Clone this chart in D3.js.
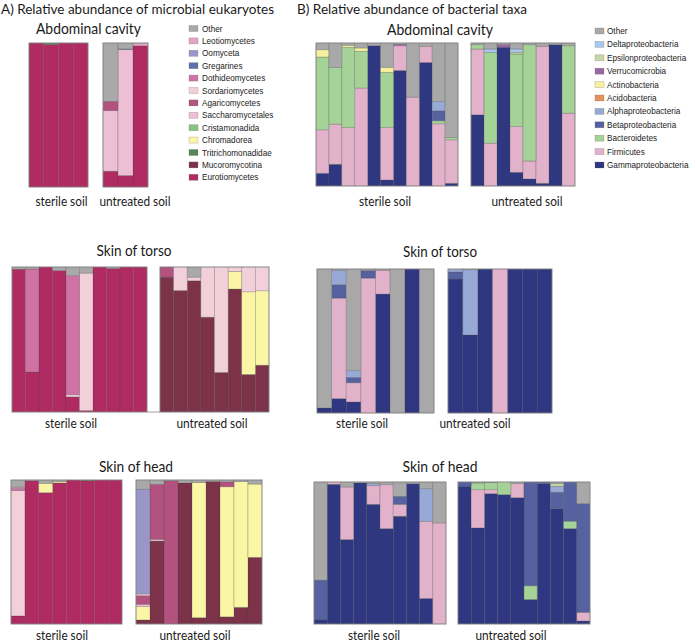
<!DOCTYPE html>
<html><head><meta charset="utf-8">
<script src="https://cdn.jsdelivr.net/npm/d3@7"></script>
<style>body{margin:0;background:#fff}svg{display:block}</style>
</head><body>
<script>
// ---------- taxa (legend order, top to bottom) ----------
const eukTaxa = ["Other","Leotiomycetes","Oomyceta","Gregarines","Dothideomycetes","Sordariomycetes","Agaricomycetes","Saccharomycetales","Cristamonadida","Chromadorea","Tritrichomonadidae","Mucoromycotina","Eurotiomycetes"];
const eukColors = ["#a9a9a9","#e3a2c7","#9a97c8","#5b72ad","#cf73a6","#f1d0da","#b3517f","#ecbfd5","#88c47e","#fbf6a6","#55875a","#7c3349","#b02b62"];
const bacTaxa = ["Other","Deltaproteobacteria","Epsilonproteobacteria","Verrucomicrobia","Actinobacteria","Acidobacteria","Alphaproteobacteria","Betaproteobacteria","Bacteroidetes","Firmicutes","Gammaproteobacteria"];
const bacColors = ["#a8a8a8","#aac8ee","#c5d8a5","#9a66a6","#f7f09e","#e4935a","#97a9d5","#56619f","#a4d297","#e2b2cb","#2f3780"];

// ---------- A) eukaryotes ----------
const eukAbdSterile = [
  {Eurotiomycetes:1},
  {Eurotiomycetes:0.99, Tritrichomonadidae:0.01},
  {Eurotiomycetes:1},
  {Eurotiomycetes:1}];
const eukAbdUntreated = [
  {Eurotiomycetes:0.11, Saccharomycetales:0.42, Agaricomycetes:0.065, Other:0.405},
  {Eurotiomycetes:0.08, Saccharomycetales:0.875, Gregarines:0.005, Other:0.04},
  {Eurotiomycetes:0.98, Leotiomycetes:0.02}];
const eukTorsoSterile = [
  {Eurotiomycetes:0.985, Other:0.015},
  {Eurotiomycetes:0.277, Dothideomycetes:0.709, Other:0.014},
  {Eurotiomycetes:1},
  {Eurotiomycetes:0.975, Other:0.025},
  {Eurotiomycetes:0.104, Sordariomycetes:0.015, Dothideomycetes:0.82, Other:0.06},
  {Eurotiomycetes:0.01, Sordariomycetes:0.948, Other:0.042},
  {Eurotiomycetes:1},
  {Eurotiomycetes:0.99, Other:0.01},
  {Eurotiomycetes:1},
  {Eurotiomycetes:1}];
const eukTorsoUntreated = [
  {Mucoromycotina:0.93, Agaricomycetes:0.07},
  {Mucoromycotina:0.838, Sordariomycetes:0.162},
  {Mucoromycotina:0.905, Sordariomycetes:0.025, Other:0.07},
  {Mucoromycotina:0.654, Sordariomycetes:0.346},
  {Mucoromycotina:0.273, Sordariomycetes:0.727},
  {Mucoromycotina:0.848, Chromadorea:0.122, Sordariomycetes:0.03},
  {Mucoromycotina:0.259, Chromadorea:0.57, Sordariomycetes:0.171},
  {Mucoromycotina:0.323, Chromadorea:0.513, Sordariomycetes:0.164}];
const eukHeadSterile = [
  {Eurotiomycetes:0.056, Sordariomycetes:0.87, Dothideomycetes:0.015, Leotiomycetes:0.01, Other:0.049},
  {Eurotiomycetes:0.995, Other:0.005},
  {Eurotiomycetes:0.912, Chromadorea:0.065, Other:0.023},
  {Eurotiomycetes:0.98, Chromadorea:0.01, Other:0.01},
  {Eurotiomycetes:1},
  {Eurotiomycetes:0.995, Tritrichomonadidae:0.005},
  {Eurotiomycetes:1},
  {Eurotiomycetes:1}];
const eukHeadUntreated = [
  {Mucoromycotina:0.028, Chromadorea:0.093, Saccharomycetales:0.016, Agaricomycetes:0.06, Sordariomycetes:0.012, Oomyceta:0.727, Other:0.064},
  {Mucoromycotina:0.576, Saccharomycetales:0.012, Agaricomycetes:0.382, Other:0.03},
  {Agaricomycetes:0.995, Other:0.005},
  {Mucoromycotina:0.98, Other:0.02},
  {Mucoromycotina:0.044, Chromadorea:0.938, Other:0.018},
  {Mucoromycotina:0.99, Other:0.01},
  {Mucoromycotina:0.05, Chromadorea:0.903, Agaricomycetes:0.035, Other:0.012},
  {Mucoromycotina:0.116, Chromadorea:0.873, Other:0.011},
  {Mucoromycotina:0.463, Chromadorea:0.509, Other:0.028}];

// ---------- B) bacteria ----------
const bacAbdSterile = [
  {Gammaproteobacteria:0.089, Firmicutes:0.304, Bacteroidetes:0.509, Actinobacteria:0.051, Other:0.047},
  {Gammaproteobacteria:0.152, Firmicutes:0.28, Bacteroidetes:0.397, Other:0.171},
  {Firmicutes:0.409, Bacteroidetes:0.561, Actinobacteria:0.014, Other:0.016},
  {Firmicutes:0.685, Bacteroidetes:0.257, Actinobacteria:0.023, Other:0.035},
  {Gammaproteobacteria:0.981, Other:0.019},
  {Gammaproteobacteria:0.042, Firmicutes:0.367, Bacteroidetes:0.386, Actinobacteria:0.035, Other:0.17},
  {Gammaproteobacteria:0.808, Firmicutes:0.173, Verrucomicrobia:0.01, Other:0.009},
  {Firmicutes:0.621, Other:0.379},
  {Gammaproteobacteria:0.864, Firmicutes:0.112, Other:0.024},
  {Firmicutes:0.435, Bacteroidetes:0.021, Betaproteobacteria:0.07, Alphaproteobacteria:0.065, Other:0.409},
  {Gammaproteobacteria:0.019, Firmicutes:0.304, Bacteroidetes:0.016, Other:0.661}];
const bacAbdUntreated = [
  {Gammaproteobacteria:0.498, Firmicutes:0.46, Bacteroidetes:0.03, Other:0.012},
  {Firmicutes:0.299, Bacteroidetes:0.636, Deltaproteobacteria:0.023, Other:0.042},
  {Gammaproteobacteria:0.97, Verrucomicrobia:0.019, Other:0.011},
  {Gammaproteobacteria:0.096, Firmicutes:0.32, Bacteroidetes:0.507, Epsilonproteobacteria:0.012, Deltaproteobacteria:0.023, Other:0.042},
  {Gammaproteobacteria:0.049, Firmicutes:0.126, Bacteroidetes:0.813, Other:0.012},
  {Gammaproteobacteria:0.019, Firmicutes:0.958, Other:0.023},
  {Gammaproteobacteria:0.988, Other:0.012},
  {Firmicutes:0.509, Bacteroidetes:0.472, Other:0.019}];
const bacTorsoSterile = [
  {Gammaproteobacteria:0.035, Other:0.965},
  {Gammaproteobacteria:0.1, Firmicutes:0.698, Betaproteobacteria:0.093, Alphaproteobacteria:0.1, Other:0.009},
  {Gammaproteobacteria:0.077, Firmicutes:0.133, Betaproteobacteria:0.037, Alphaproteobacteria:0.047, Other:0.706},
  {Firmicutes:0.937, Betaproteobacteria:0.053, Other:0.01},
  {Gammaproteobacteria:0.826, Firmicutes:0.165, Other:0.009},
  {Other:1},
  {Gammaproteobacteria:1},
  {Other:1}];
const bacTorsoUntreated = [
  {Gammaproteobacteria:0.93, Betaproteobacteria:0.049, Alphaproteobacteria:0.021},
  {Gammaproteobacteria:0.542, Alphaproteobacteria:0.453, Other:0.005},
  {Gammaproteobacteria:1},
  {Firmicutes:1},
  {Gammaproteobacteria:1},
  {Gammaproteobacteria:1},
  {Gammaproteobacteria:1}];
const bacHeadSterile = [
  {Gammaproteobacteria:0.033, Betaproteobacteria:0.276, Other:0.691},
  {Gammaproteobacteria:0.984, Firmicutes:0.016},
  {Gammaproteobacteria:0.595, Firmicutes:0.37, Other:0.035},
  {Gammaproteobacteria:0.993, Other:0.007},
  {Gammaproteobacteria:0.843, Firmicutes:0.131, Alphaproteobacteria:0.014, Other:0.012},
  {Gammaproteobacteria:0.672, Firmicutes:0.309, Other:0.019},
  {Gammaproteobacteria:0.759, Firmicutes:0.084, Betaproteobacteria:0.056, Other:0.101},
  {Gammaproteobacteria:0.988, Other:0.012},
  {Gammaproteobacteria:0.18, Firmicutes:0.543, Alphaproteobacteria:0.23, Other:0.047},
  {Firmicutes:0.712, Other:0.288}];
const bacHeadUntreated = [
  {Gammaproteobacteria:0.97, Betaproteobacteria:0.03},
  {Gammaproteobacteria:0.677, Firmicutes:0.269, Bacteroidetes:0.047, Other:0.007},
  {Gammaproteobacteria:0.918, Firmicutes:0.028, Bacteroidetes:0.049, Other:0.005},
  {Gammaproteobacteria:0.911, Bacteroidetes:0.089},
  {Gammaproteobacteria:0.89, Firmicutes:0.098, Other:0.012},
  {Gammaproteobacteria:0.173, Bacteroidetes:0.096, Betaproteobacteria:0.731},
  {Gammaproteobacteria:0.988, Betaproteobacteria:0.012},
  {Gammaproteobacteria:0.813, Epsilonproteobacteria:0.019, Betaproteobacteria:0.115, Alphaproteobacteria:0.042, Other:0.011},
  {Gammaproteobacteria:0.672, Bacteroidetes:0.052, Betaproteobacteria:0.276},
  {Gammaproteobacteria:0.021, Firmicutes:0.061, Betaproteobacteria:0.766, Other:0.152}];

// ---------- text ----------
const sectionTitles = ["A) Relative abundance of microbial eukaryotes","B) Relative abundance of bacterial taxa"];
const siteTitles = ["Abdominal cavity","Skin of torso","Skin of head"];
const groupLabels = ["sterile soil","untreated soil"];

// ---------- drawing ----------
const W = 696, H = 644;
const svg = d3.select("body").append("svg").attr("width", W).attr("height", H);
const FONT = "Lato, 'Open Sans', sans-serif";

const eukColor = d3.scaleOrdinal(eukTaxa, eukColors);
const bacColor = d3.scaleOrdinal(bacTaxa, bacColors);
const eukStackKeys = eukTaxa.slice().reverse();
const bacStackKeys = bacTaxa.slice().reverse();

function panel(data, keys, color, x0, x1, y0, y1) {
  const norm = data.map(d => { const s = d3.sum(keys, k => d[k] || 0); const o = {}; keys.forEach(k => o[k] = (d[k] || 0) / s); return o; });
  const x = d3.scaleBand().domain(d3.range(data.length)).range([x0, x1]).padding(0);
  const y = d3.scaleLinear().domain([0, 1]).range([y1, y0]);
  const series = d3.stack().keys(keys)(norm);
  const g = svg.append("g");
  g.selectAll("g").data(series).join("g").attr("fill", s => color(s.key))
    .selectAll("rect").data(s => s.map((v, i) => ({v, i})).filter(o => o.v[1] - o.v[0] > 0))
    .join("rect")
    .attr("x", o => x(o.i)).attr("width", x.bandwidth())
    .attr("y", o => y(o.v[1])).attr("height", o => y(o.v[0]) - y(o.v[1]))
    .attr("stroke", "#444").attr("stroke-opacity", 0.35).attr("stroke-width", 0.7);
  g.append("rect").attr("x", x0).attr("y", y0).attr("width", x1 - x0).attr("height", y1 - y0)
    .attr("fill", "none").attr("stroke", "#8a8a8a").attr("stroke-width", 0.8);
}

const E = [eukStackKeys, eukColor], B = [bacStackKeys, bacColor];
panel(eukAbdSterile, ...E, 29, 88, 43, 187);
panel(eukAbdUntreated, ...E, 103, 148, 43, 187);
panel(bacAbdSterile, ...B, 316, 458, 43, 186);
panel(bacAbdUntreated, ...B, 471, 575, 43, 186);
panel(eukTorsoSterile, ...E, 12, 147, 267, 412);
panel(eukTorsoUntreated, ...E, 160, 269, 267, 412);
svg.append("line").attr("x1", 147).attr("x2", 160).attr("y1", 412).attr("y2", 412).attr("stroke", "#8a8a8a").attr("stroke-width", 0.8);
panel(bacTorsoSterile, ...B, 317, 434, 269, 413);
panel(bacTorsoUntreated, ...B, 448, 552, 269, 413);
panel(eukHeadSterile, ...E, 11, 122, 480, 624);
panel(eukHeadUntreated, ...E, 136, 262, 480, 624);
panel(bacHeadSterile, ...B, 314, 446, 482, 624);
panel(bacHeadUntreated, ...B, 458, 590, 482, 624);

function text(str, x, y, size, anchor, len) {
  const t = svg.append("text").attr("x", x).attr("y", y).attr("font-size", size)
    .attr("font-family", FONT).attr("text-anchor", anchor || "middle").attr("fill", "#1a1a1a").text(str);
  if (len) t.attr("textLength", len).attr("lengthAdjust", "spacingAndGlyphs");
  return t;
}
text(sectionTitles[0], 1, 14, 14, "start", 273);
text(sectionTitles[1], 297, 14, 14, "start", 230);

text(siteTitles[0], 88.5, 34, 16, "middle", 105); text(siteTitles[0], 440, 35, 16, "middle", 106);
text(siteTitles[1], 134, 256, 16, "middle", 75); text(siteTitles[1], 440, 257, 16, "middle", 74);
text(siteTitles[2], 136, 472, 16, "middle", 74); text(siteTitles[2], 440, 472, 16, "middle", 75);

const lab = [[61.5,135,206],[385,527,206],[71,212,428],[362,475,428],[62,195,640],[374,511,640]];
lab.forEach(([a, b, y]) => { text(groupLabels[0], a, y, 13.5, "middle", 52); text(groupLabels[1], b, y, 13.5, "middle", 71); });

function legend(taxa, color, sx, tx, y0, step) {
  const g = svg.append("g");
  taxa.forEach((t, i) => {
    const yc = y0 + i * step;
    g.append("rect").attr("x", sx).attr("y", yc - 3).attr("width", 9).attr("height", 6)
      .attr("fill", color(t)).attr("stroke", "#666").attr("stroke-opacity", 0.4).attr("stroke-width", 0.6);
    g.append("text").attr("x", tx).attr("y", yc + 3).attr("font-size", 8.2)
      .attr("font-family", "'Liberation Sans', Arial, sans-serif").attr("fill", "#222").text(t);
  });
}
legend(eukTaxa, eukColor, 189, 202, 28.5, 12.4);
legend(bacTaxa, bacColor, 595, 607, 31, 13.4);
</script>
</body></html>
